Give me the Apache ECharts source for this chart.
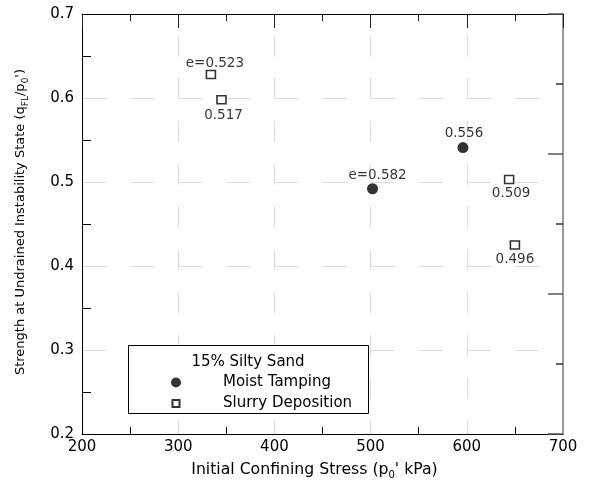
<!DOCTYPE html>
<html>
<head>
<meta charset="utf-8">
<script src="https://cdn.jsdelivr.net/npm/echarts@6/dist/echarts.min.js"></script>
<style>
html,body{margin:0;padding:0;background:#fff;}
#chart{width:592px;height:485px;}
</style>
</head>
<body>
<div id="chart"></div>
<script>
// ---- data ----
const moistX = [502, 596];
const moistY = [0.492, 0.541];
const moistE = ['e=0.582', '0.556'];
const slurryX = [334, 345, 644, 650];
const slurryY = [0.628, 0.598, 0.503, 0.425];
const slurryE = ['e=0.523', '0.517', '0.509', '0.496'];
const xTicks = [200, 300, 400, 500, 600, 700];
const yTicks = [0.2, 0.3, 0.4, 0.5, 0.6, 0.7];
const seriesNames = ['Moist Tamping', 'Slurry Deposition'];
const legendTitle = '15% Silty Sand';

// ---- label placement (style) ----
const moistLabelOffset = [[5, -13], [1, -14]];
const slurryLabelOffset = [[4, -11], [2, 16], [2, 14], [0, 14]];

const FONT = 'DejaVu Sans';

function pts(xs, ys, labels, offs) {
  return xs.map((x, i) => ({
    value: [x, ys[i]],
    label: { formatter: labels[i], offset: offs[i] }
  }));
}

const dashX = [21.385, 21.385];
const dashY = [24.05, 24.05];

const chart = echarts.init(document.getElementById('chart'), null, {renderer: 'canvas'});
chart.setOption({
  animation: false,
  backgroundColor: '#fff',
  textStyle: { fontFamily: FONT },
  grid: { left: 82, top: 14, width: 481, height: 427.7, containLabel: false },
  xAxis: [{
    type: 'value',
    min: xTicks[0], max: xTicks[xTicks.length - 1], interval: 100,
    name: 'Initial Confining Stress (p{sub|0}\' kPa)',
    nameLocation: 'middle', nameGap: 21,
    nameTextStyle: {
      fontFamily: FONT, fontSize: 15.7, color: '#000', lineHeight: 20,
      padding: [0, 16, 0, 0],
      rich: { sub: { fontFamily: FONT, fontSize: 10, verticalAlign: 'bottom', lineHeight: 11 } }
    },
    axisLine: { show: true, lineStyle: { color: '#000', width: 1 } },
    axisTick: { show: true, inside: true, length: 0, lineStyle: { width: 0, opacity: 0 } },
    minorTick: { show: true, splitNumber: 2, length: 7, lineStyle: { color: '#000', width: 1 } },
    axisLabel: { fontFamily: FONT, fontSize: 15, color: '#000', margin: 6 },
    splitLine: { show: true, lineStyle: { color: '#dedede', width: 1, type: dashX, dashOffset: 21.385 } },
    minorSplitLine: { show: false }
  }, {
    type: 'value', position: 'top',
    min: xTicks[0], max: xTicks[xTicks.length - 1], interval: 100,
    axisLine: { show: true, lineStyle: { color: '#000', width: 1 } },
    axisTick: { show: true, inside: true, length: 14, lineStyle: { color: '#222', width: 1 } },
    minorTick: { show: true, splitNumber: 2, length: 7, lineStyle: { color: '#222', width: 1 } },
    axisLabel: { show: false },
    splitLine: { show: false }
  }],
  yAxis: [{
    type: 'value',
    min: yTicks[0], max: yTicks[yTicks.length - 1], interval: 0.1,
    name: 'Strength at Undrained Instability State (q{sub|FL}/p{sub|0}\')',
    nameLocation: 'middle', nameGap: 52, nameRotate: 90,
    nameTextStyle: {
      fontFamily: FONT, fontSize: 13, color: '#000', lineHeight: 18,
      padding: [0, 0, 0, 4],
      rich: { sub: { fontFamily: FONT, fontSize: 9, verticalAlign: 'bottom', lineHeight: 10 } }
    },
    axisLine: { show: true, lineStyle: { color: '#000', width: 1 } },
    axisTick: { show: true, inside: true, length: 0, lineStyle: { width: 0, opacity: 0 } },
    minorTick: { show: true, splitNumber: 2, length: 9, lineStyle: { color: '#000', width: 1 } },
    axisLabel: { fontFamily: FONT, fontSize: 15, color: '#000', margin: 8,
      formatter: v => v.toFixed(1) },
    splitLine: { show: true, lineStyle: { color: '#dedede', width: 1, type: dashY } }
  }, {
    type: 'value', position: 'right',
    min: 0, max: 3, interval: 1,
    axisLine: { show: true, lineStyle: { color: '#999', width: 2 } },
    axisTick: { show: true, inside: true, length: 15, lineStyle: { color: '#555', width: 1.5 } },
    minorTick: { show: true, splitNumber: 2, length: 7, lineStyle: { color: '#333', width: 1.5 } },
    axisLabel: { show: false },
    splitLine: { show: false }
  }],
  legend: {
    show: true,
    orient: 'vertical',
    left: 170, top: 375,
    padding: 0,
    itemWidth: 10, itemHeight: 10, itemGap: 6,
    selectedMode: false,
    z: 10,
    data: [
      { name: seriesNames[0], icon: 'circle' },
      { name: seriesNames[1], icon: 'path://M0,0M10,10M1.5,1.5h7v7h-7z' }
    ],
    formatter: '{t|{name}}',
    textStyle: {
      fontFamily: FONT, fontSize: 15, color: '#000',
      rich: { t: { fontFamily: FONT, fontSize: 15, color: '#000', lineHeight: 14, padding: [0, 0, 0, 37] } }
    }
  },
  graphic: [{
    type: 'rect', z: 5,
    shape: { x: 128.5, y: 345.5, width: 240, height: 68 },
    style: { fill: '#fff', stroke: '#000', lineWidth: 1 }
  }, {
    type: 'text', z: 6,
    style: { text: legendTitle, x: 248, y: 362, textAlign: 'center', textVerticalAlign: 'middle',
      font: '15px "DejaVu Sans"', fill: '#000' }
  }],
  series: [{
    name: seriesNames[0],
    type: 'scatter',
    symbol: 'circle', symbolSize: 11,
    itemStyle: { color: '#000' },
    label: { show: true, position: 'inside', color: '#000', fontFamily: FONT, fontSize: 13.5 },
    data: pts(moistX, moistY, moistE, moistLabelOffset),
    z: 3
  }, {
    name: seriesNames[1],
    type: 'scatter',
    symbol: 'rect', symbolSize: [9, 8],
    itemStyle: { color: '#fff', borderColor: '#000', borderWidth: 1.5 },
    label: { show: true, position: 'inside', color: '#000', fontFamily: FONT, fontSize: 13.5 },
    data: pts(slurryX, slurryY, slurryE, slurryLabelOffset),
    z: 3
  }]
});
</script>
</body>
</html>
